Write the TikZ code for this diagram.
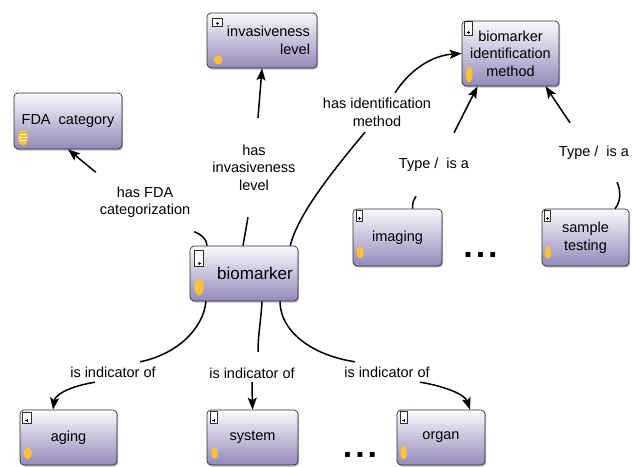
\documentclass[tikz,border=0pt]{standalone}
\usepackage{fontspec}
\setmainfont{Liberation Sans}
\usetikzlibrary{arrows.meta,shadows,calc}

\definecolor{boxtop}{RGB}{250,249,253}
\definecolor{boxbot}{RGB}{148,137,186}
\definecolor{yel}{RGB}{251,193,55}
\definecolor{edgegray}{RGB}{45,45,45}

\newcommand\plusbox[5]{%
  \draw[line width=0.5pt,draw=edgegray,fill=white] ($(#1.north west)+(#2,#3)$) rectangle ($(#1.north west)+(#4,#5)$);
  \draw[line width=0.45pt] ($(#1.north west)+({(#2+#4)/2-1.6},{#5-3.2})$) -- ++(3.2,0)
    ($(#1.north west)+({(#2+#4)/2},{#5-4.8})$) -- ++(0,3.2);
}
\newcommand\yelldot[5]{%
  \fill[yel] ($(#1.south west)+(#2,#3)$) ellipse [x radius=#4pt, y radius=#5pt];
}

\begin{document}
\begin{tikzpicture}[x=1pt,y=-1pt,
  concept/.style={draw=edgegray, line width=0.7pt, rounded corners=4pt,
    top color=boxtop, bottom color=boxbot,
    drop shadow={shadow xshift=1.2pt, shadow yshift=-1.5pt, opacity=0.5},
    inner sep=0pt, align=center, font=\fontsize{14.5}{17.5}\selectfont},
  lab/.style={font=\fontsize{14.5}{17.5}\selectfont, align=center, inner sep=0pt},
  conn/.style={draw=black, line width=1.5pt},
  conna/.style={conn, -{Stealth[length=12pt,width=9pt,inset=2.5pt]}},
  dotsty/.style={font=\fontsize{34}{34}\selectfont\bfseries, inner sep=0pt}
]
\useasboundingbox (0,0) rectangle (632,466);

% concept boxes
\node[concept, minimum width=108pt, minimum height=56pt] (fda) at (68,121) {FDA\ \ category};
\node[concept, minimum width=110pt, minimum height=55pt, align=right] (inv) at (262,40.5) {\hspace*{13pt}invasiveness\\level};
\node[concept, minimum width=97pt, minimum height=65pt] (bmid) at (510.5,53.5) {biomarker\\identification\\method};
\node[concept, minimum width=108pt, minimum height=55pt, font=\fontsize{17}{20}\selectfont] (bio) at (244,273.5) {\hspace*{22pt}biomarker};
\node[concept, minimum width=89pt, minimum height=57pt] (img) at (397.5,237.5) {imaging};
\node[concept, minimum width=87pt, minimum height=57pt] (st) at (585.5,237.5) {sample\\testing};
\node[concept, minimum width=97pt, minimum height=55pt] (aging) at (68.5,437.5) {aging};
\node[concept, minimum width=91pt, minimum height=55pt] (sys) at (252.5,437.5) {system};
\node[concept, minimum width=88pt, minimum height=55pt] (org) at (441,437.5) {organ};

% icons
\plusbox{inv}{6}{6}{15.5}{14}
\plusbox{bmid}{3}{1}{11}{15}
\plusbox{bio}{5}{5}{14}{21}
\plusbox{img}{3.7}{1.7}{9.7}{12.7}
\plusbox{st}{3}{1.7}{9}{12.7}
\plusbox{aging}{2.7}{2.7}{11.7}{14}
\plusbox{sys}{4}{1.7}{10.3}{14}
\plusbox{org}{4}{1.7}{10.3}{14}

\yelldot{inv}{11.5}{-8.5}{4.5}{4.5}
\yelldot{bmid}{7.5}{-12}{3.5}{8}
\yelldot{bio}{9.5}{-14.5}{4.5}{8.5}
\yelldot{img}{7.5}{-14}{3.5}{6}
\yelldot{st}{6.3}{-14}{3.3}{6.3}
\yelldot{aging}{8}{-12}{4}{6}
\yelldot{sys}{8}{-12.5}{3.3}{5.8}
\yelldot{org}{7}{-12.7}{3.2}{6.7}
\yelldot{fda}{9.3}{-11.8}{5}{7.8}
\draw[white, line width=0.6pt]
  ($(fda.south west)+(6,-15)$) -- ++(6.6,0)
  ($(fda.south west)+(5.5,-11.8)$) -- ++(7.6,0)
  ($(fda.south west)+(6,-8.6)$) -- ++(6.6,0);

% link labels
\node[lab, minimum width=98pt, minimum height=59pt] (lFDA) at (145,202) {has FDA\\categorization};
\node[lab, minimum height=99pt] (lInv) at (254,167.5) {has\\invasiveness\\level};
\node[lab, minimum height=39pt] (lId) at (377,112.5) {has identification\\method};
\node[lab, minimum height=63pt] (lT1) at (434,164.5) {Type /\ \ is a};
\node[lab, minimum height=59pt] (lT2) at (594,152.5) {Type /\ \ is a};
\node[lab, minimum height=20pt] (lA) at (113,372) {is indicator of};
\node[lab, minimum height=18pt] (lS) at (252,373) {is indicator of};
\node[lab, minimum height=20pt] (lO) at (387,372) {is indicator of};

% ellipsis marks
\node[dotsty] (dotsA) at (480.5,255) {.\kern3pt.\kern3pt.};
\node[dotsty] (dotsB) at (360,455) {.\kern3pt.\kern3pt.};

% connectors
\draw[conn] ([xshift=-37pt]bio.north) .. controls +(-1,-8) and +(7,3) .. (lFDA.south east);
\draw[conna] (lFDA.north west) -- (fda.south);

\draw[conn] ([xshift=-1pt]bio.north) -- ([xshift=-6pt]lInv.south);
\draw[conna] ([xshift=4pt]lInv.north) -- (inv.south);

\draw[conn] ([xshift=-8pt]bio.north east) .. controls +(7,-31) and +(-30,36) .. ([xshift=-12pt]lId.south);
\draw[conna] ([xshift=18pt]lId.north) .. controls +(15,-23) and +(-30,2) .. (bmid.west);

\draw[conn] ([xshift=15pt]img.north) .. controls +(0,-7) and +(-2,3) .. ([xshift=-18pt]lT1.south);
\draw[conna] ([xshift=20pt]lT1.north) -- ([xshift=-33pt]bmid.south);

\draw[conn] ([xshift=29.5pt]st.north) .. controls +(6,-7) and +(4,8) .. ([xshift=23pt]lT2.south);
\draw[conna] ([xshift=-24pt]lT2.north) -- ([xshift=35pt]bmid.south);

\draw[conn] ([xshift=-38pt]bio.south) .. controls +(-3,29) and +(35,-7) .. ([xshift=27pt]lA.north);
\draw[conna] ([xshift=-18pt]lA.south) .. controls +(-25,4) and +(2,-15) .. ([xshift=-15.5pt]aging.north);

\draw[conn] ([xshift=18pt]bio.south) .. controls +(-1,19) and +(0,-17) .. ([xshift=6pt,yshift=12pt]lS.north);
\draw[conna] (lS.south) -- (sys.north);

\draw[conn] ([xshift=36pt]bio.south) .. controls +(0,29) and +(-45,-7) .. ([xshift=-32pt]lO.north);
\draw[conna] ([xshift=33pt]lO.south) .. controls +(25,4) and +(-5,-15) .. ([xshift=29pt]org.north);
\end{tikzpicture}
\end{document}
